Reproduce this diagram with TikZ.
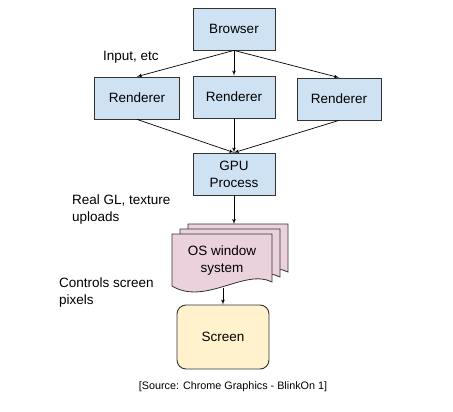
\documentclass[tikz,border=0pt]{standalone}
\usepackage{fontspec}
\setmainfont{Liberation Sans}
\usepackage{xcolor}
\usepackage{tikz}
\usetikzlibrary{shapes,arrows,positioning}

\definecolor{procblue}{HTML}{CFE2F3}
\definecolor{ospink}{HTML}{EAD1DC}
\definecolor{scryellow}{HTML}{FFF2CC}
\definecolor{edgegray}{HTML}{333333}

\begin{document}
\begin{tikzpicture}[x=1pt, y=-1pt, auto, font=\fontsize{13.5}{17}\selectfont]
    \tikzstyle{block} = [rectangle, draw=edgegray, line width=0.8pt, fill=procblue,
        minimum width=82pt, minimum height=42pt, align=center, inner sep=2pt]
    \tikzstyle{screenbox} = [rectangle, draw=edgegray, line width=0.9pt, fill=scryellow,
        rounded corners=9pt, minimum width=92pt, minimum height=64pt]
    \tikzstyle{sheet} = [draw=edgegray, line width=0.8pt, fill=ospink]
    \tikzstyle{note} = [anchor=west, align=left, inner sep=0pt]
    \tikzstyle{line} = [draw, line width=0.7pt, -latex']

    \useasboundingbox (0,0) rectangle (453,412);

    \node [block] (browser) at (234,29) {Browser};
    \node [block, below of=browser, node distance=68pt] (rmid) {Renderer};
    \node [block, left of=rmid, node distance=97pt, minimum width=85pt, yshift=-1pt] (rleft) {Renderer};
    \node [block, right of=rmid, node distance=105pt, minimum width=84pt, yshift=-2pt] (rright) {Renderer};
    \node [block, below of=rmid, node distance=77pt] (gpu) {GPU\\Process};

    % OS window system: stack of three sheets
    \node [minimum width=100pt, minimum height=54pt, align=center] (os) at (222,261) {};
    \foreach \dx/\dy in {16/-10, 8/-5, 0/0} {
        \filldraw [sheet, shift={(\dx,\dy)}]
            (172,234) -- (272,234) -- (272,282)
            .. controls (245,268) and (205,306) .. (172,286) -- cycle;
    }
    \node [align=center] at (os) {OS window\\system};
    \coordinate (ostop) at (234,224);

    \node [screenbox] (screen) at (223,337) {Screen};

    \node [note] (input) at (103,57) {Input, etc};
    \node [note] (realgl) at (72,210) {Real GL, texture\\uploads};
    \node [note] (ctrl) at (59,293) {Controls screen\\pixels};
    \node [font=\fontsize{10.8}{13}\selectfont] (source) at (233,387)
        {[Source: Chrome Graphics - BlinkOn 1]};

    \path [line] (browser.south) -- (rleft.north);
    \path [line] (browser.south) -- (rmid.north);
    \path [line] (browser.south) -- (rright.north);
    \path [line] (rleft.south) -- (gpu.north);
    \path [line] (rmid.south) -- (gpu.north);
    \path [line] (rright.south) -- (gpu.north);
    \path [line] (gpu.south) -- (ostop);
    \path [line] (os.south -| screen.north) -- (screen.north);
\end{tikzpicture}
\end{document}
